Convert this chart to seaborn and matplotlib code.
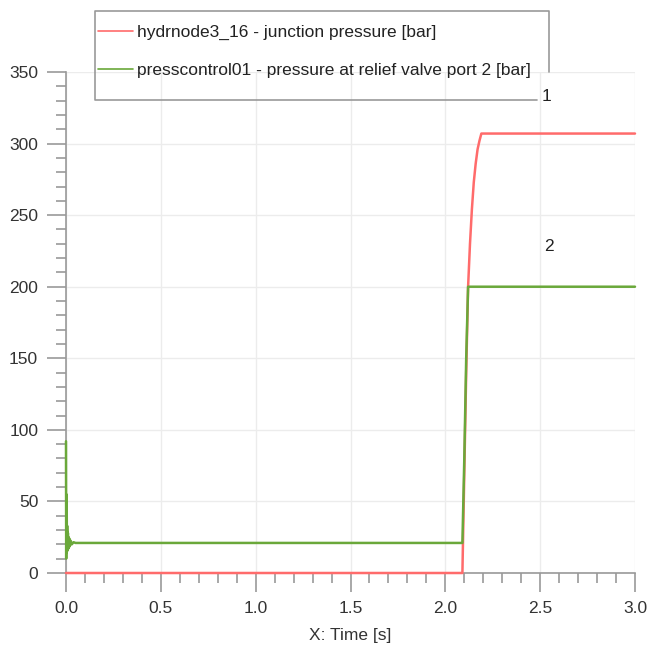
import pandas as pd
import seaborn as sns
import matplotlib.pyplot as plt
from matplotlib.lines import Line2D
from matplotlib.ticker import MultipleLocator

# junction pressure (curve 1)
t_junction = [0.0, 2.09, 2.10, 2.11, 2.12, 2.13, 2.14, 2.15, 2.16, 2.17, 2.18, 2.19, 3.0]
p_junction = [0.0, 0.0, 70, 140, 200, 230, 254, 273, 286, 296, 302, 307, 307]

# relief valve port 2 pressure (curve 2)
t_relief = [0.0, 0.001, 0.002, 0.003, 0.004, 0.005, 0.006, 0.008, 0.010, 0.012, 0.014,
            0.016, 0.018, 0.020, 0.025, 0.030, 0.040, 0.050, 2.09, 2.10, 2.11, 2.12, 3.0]
p_relief = [92, 10, 55, 14, 40, 15, 33, 16, 28, 17, 25, 18, 24, 19, 22.5, 20, 21.5, 21,
            21, 80, 150, 200, 200]

lbl_junction = "hydrnode3_16 - junction pressure [bar]"
lbl_relief = "presscontrol01 - pressure at relief valve port 2 [bar]"

df = pd.concat([
    pd.DataFrame({"t": t_junction, "p": p_junction, "series": lbl_junction}),
    pd.DataFrame({"t": t_relief, "p": p_relief, "series": lbl_relief}),
])

sns.set_style("white")
plt.rcParams["font.family"] = ["Liberation Sans", "DejaVu Sans"]

W, H = 649, 646
fig = plt.figure(figsize=(W / 100, H / 100), dpi=100)
ax = fig.add_axes([66 / W, 1 - 573 / H, (635 - 66) / W, (573 - 72) / H])

colors = {lbl_junction: "#ff6b6b", lbl_relief: "#6aa83a"}
sns.lineplot(data=df, x="t", y="p", hue="series", palette=colors, sort=False,
             estimator=None, linewidth=1.8, ax=ax, legend=False)
for ln in ax.get_lines():
    ln.set_clip_on(False)
    ln.set_zorder(5)

ax.set_xlim(0, 3.0)
ax.set_ylim(0, 350)
ax.xaxis.set_major_locator(MultipleLocator(0.5))
ax.xaxis.set_minor_locator(MultipleLocator(0.1))
ax.yaxis.set_major_locator(MultipleLocator(50))
ax.yaxis.set_minor_locator(MultipleLocator(10))
ax.grid(True, which="major", color="#ececec", linewidth=1)
ax.set_axisbelow(True)
for s in ["top", "right"]:
    ax.spines[s].set_visible(False)
for s in ["left", "bottom"]:
    ax.spines[s].set_color("#999999")
    ax.spines[s].set_linewidth(1.2)
ax.tick_params(which="major", direction="out", length=14, width=1.2, color="#999999",
               labelsize=12.5, labelcolor="#333333", pad=6)
ax.tick_params(which="minor", direction="out", length=7, width=1.2, color="#999999")
ax.tick_params(axis="x", which="both", bottom=True)
ax.tick_params(axis="y", which="both", left=True)
ax.set_xticklabels([f"{v:.1f}" for v in ax.get_xticks()])
ax.set_xlabel("X: Time [s]", fontsize=12.5, color="#333333", labelpad=9)
ax.set_ylabel("")

# legend above the axes
handles = [Line2D([], [], color=colors[lbl_junction], lw=1.2),
           Line2D([], [], color=colors[lbl_relief], lw=1.2)]
fig.legend(handles, [lbl_junction, lbl_relief], loc="upper left",
           bbox_to_anchor=(98 / W, 1 - 25 / H), frameon=False, fontsize=12.5,
           borderpad=0, borderaxespad=0, handlelength=2.0, handletextpad=0.25,
           labelspacing=1.3, labelcolor="#222222")
fx = lambda x: x / W
fy = lambda y: 1 - y / H
fig.add_artist(Line2D([fx(537), fx(95), fx(95), fx(549), fx(549)],
                      [fy(100), fy(100), fy(11), fy(11), fy(72)],
                      color="#999999", lw=1.2))

ax.text(2.535, 333, "1", fontsize=12.5, color="#222222", ha="center", va="center")
ax.text(2.545, 228, "2", fontsize=12.5, color="#222222", ha="center", va="center")

fig.savefig("out.png", dpi=100)
